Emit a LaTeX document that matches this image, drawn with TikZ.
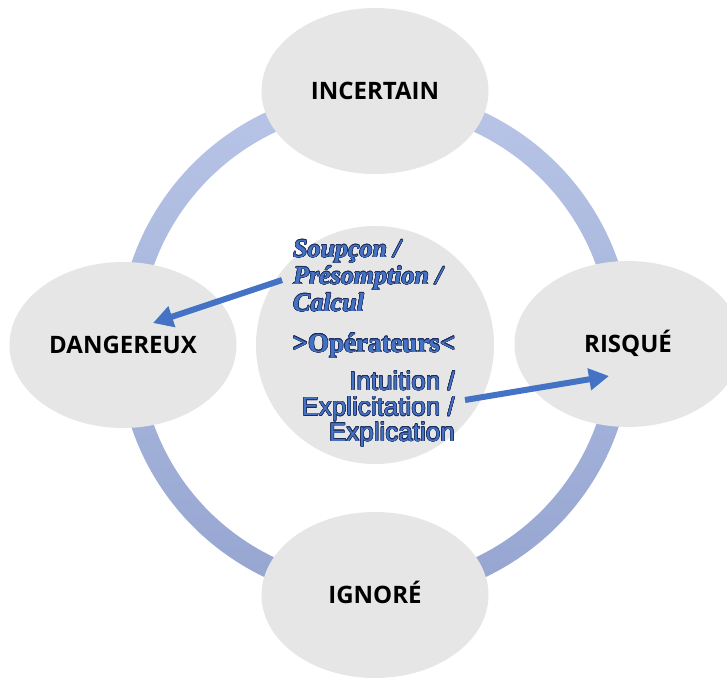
\documentclass[tikz,border=0pt]{standalone}
\usepackage{fontspec}
\setmainfont{Liberation Serif}
\setsansfont{Liberation Sans}
\newfontfamily\labelfont{Open Sans}
\usepackage{contour}
\usetikzlibrary{shapes.geometric,arrows.meta}
\contourlength{0.5pt}
\definecolor{cellgray}{HTML}{E6E6E6}
\definecolor{ringtop}{HTML}{B8C5E7}
\definecolor{ringbottom}{HTML}{95A5D0}
\definecolor{accentblue}{HTML}{4472C4}
\definecolor{inkblue}{HTML}{1E2C5A}
\newcommand{\outlined}[1]{\contour{inkblue}{#1}}
\tikzset{
  cell/.style={ellipse, fill=cellgray, draw=none, minimum width=227pt,
    minimum height=166pt, inner sep=0pt, text height=16.5pt, text depth=0pt,
    font=\labelfont\bfseries\fontsize{24}{26}\selectfont},
  hub/.style={circle, fill=cellgray, draw=none, minimum size=238pt, inner sep=0pt},
  pointer/.style={draw=accentblue, line width=6pt,
    -{Triangle[length=20pt,width=21pt]}},
  bluetext/.style={text=accentblue, inner sep=0pt}
}
\begin{document}
\begin{tikzpicture}[x=1pt,y=-1pt]
  \useasboundingbox (0,0) rectangle (727,677);
  \clip (0,0) rectangle (727,677);
  \fill[white] (0,0) rectangle (727,677);
  % ring linking the four states
  \coordinate (c) at (375,345);
  \shade[top color=ringtop, bottom color=ringbottom, even odd rule]
    (c) circle[radius=257pt] (c) circle[radius=235pt];
  % the four states
  \node[cell] (incertain) at (375,91)  {INCERTAIN};
  \node[cell] (dangereux) at (123,345) {DANGEREUX};
  \node[cell] (risque)    at (628,344) {RISQUÉ};
  \node[cell] (ignore)    at (375,595) {IGNORÉ};
  % central hub with the operators
  \node[hub] (hub) at (c) {};
  \node[bluetext, anchor=north west, align=left,
        font=\bfseries\itshape\fontsize{26}{27}\selectfont] (soupcon) at (293,240)
    {\outlined{Soupçon /}\\\outlined{Présomption /}\\\outlined{Calcul}};
  \node[bluetext, anchor=base, font=\bfseries\fontsize{27}{28}\selectfont]
    (operateurs) at (374,352) {\outlined{>Opérateurs<}};
  \node[bluetext, anchor=north east, align=right,
        font=\sffamily\fontsize{26}{25.5}\selectfont] (intuition) at (455,371)
    {\outlined{Intuition /}\\\outlined{Explicitation /}\\\outlined{Explication}};
  % arrows toward the states
  \coordinate (s1) at (282,280);
  \coordinate (t1) at (153,323);
  \coordinate (s2) at (465,400);
  \coordinate (t2) at (609,376);
  \draw[pointer] (s1) -- (t1);
  \draw[pointer] (s2) -- (t2);
\end{tikzpicture}
\end{document}
